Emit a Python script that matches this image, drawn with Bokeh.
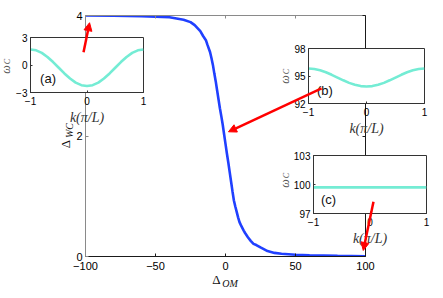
from bokeh.plotting import figure
from bokeh.models import (Range1d, FixedTicker, LinearAxis, Label, Arrow,
                          NormalHead, ColumnDataSource)
from bokeh.embed import file_html
from bokeh.resources import INLINE

# ---------------- data ----------------
delta_om = [-100, -80, -60, -40, -35, -30, -25, -22, -20, -18, -16, -14, -13, -11,
            -10, -9, -8, -7, -6, -5, -4, -3, -2, -1, 0, 1, 2, 3, 4, 5, 6, 7, 8, 9,
            10, 11, 13, 14, 16, 18, 20, 22, 25, 30, 35, 40, 50, 60, 80, 100]
delta_wc = [4.00, 3.995, 3.99, 3.97, 3.95, 3.93, 3.89, 3.84, 3.79, 3.74, 3.66, 3.59,
            3.52, 3.39, 3.29, 3.18, 3.04, 2.91, 2.76, 2.61, 2.46, 2.33, 2.19, 2.03,
            1.87, 1.71, 1.56, 1.40, 1.24, 1.08, 0.93, 0.83, 0.74, 0.65, 0.57, 0.52,
            0.43, 0.39, 0.32, 0.26, 0.21, 0.19, 0.15, 0.09, 0.06, 0.045, 0.03, 0.02,
            0.01, 0.005]

k_vals = [-1.0, -0.9, -0.8, -0.7, -0.6, -0.5, -0.4, -0.3, -0.2, -0.1, 0.0,
          0.1, 0.2, 0.3, 0.4, 0.5, 0.6, 0.7, 0.8, 0.9, 1.0]
omega_a = [1.70, 1.60, 1.32, 0.88, 0.32, -0.30, -0.92, -1.48, -1.92, -2.20, -2.30,
           -2.20, -1.92, -1.48, -0.92, -0.30, 0.32, 0.88, 1.32, 1.60, 1.70]
omega_b = [95.81, 95.76, 95.62, 95.41, 95.13, 94.83, 94.53, 94.25, 94.04, 93.90, 93.85,
           93.90, 94.04, 94.25, 94.53, 94.83, 95.13, 95.41, 95.62, 95.76, 95.81]
omega_c = [99.7, 99.7, 99.7, 99.7, 99.7, 99.7, 99.7, 99.7, 99.7, 99.7, 99.7,
           99.7, 99.7, 99.7, 99.7, 99.7, 99.7, 99.7, 99.7, 99.7, 99.7]

main_xticks = [-100, -50, 0, 50, 100]
main_yticks = [0, 2, 4]
inset_xticks = [-1, 0, 1]
inset_a_yticks = [-3, 0, 3]
inset_b_yticks = [92, 95, 98]
inset_c_yticks = [97, 100, 103]
inset_a_yrange = (-3, 3)
inset_b_yrange = (92, 98)
inset_c_yrange = (97, 103)
panel_tags = ["(a)", "(b)", "(c)"]
tag_k = [-0.69, -0.716, -0.735]
tag_w = [-1.47, 93.4, 98.45]

# arrows in main-plot data coordinates
arrow_x0 = [-101.4, 68.6, 105.7]
arrow_y0 = [3.39, 2.79, 0.91]
arrow_x1 = [-97.1, 2.1, 98.4]
arrow_y1 = [3.88, 2.07, 0.10]

# ---------------- layout (window pixels) ----------------
WIN_W, WIN_H = 443, 298
MAIN_FRAME = (85, 15, 365, 256)     # left, top, right, bottom
MAIN_BOX = (8, 8, 435, 290)
A_FRAME, A_BOX = (30, 37, 143, 92), (10, 30, 151, 128)
B_FRAME, B_BOX = (308, 48, 424, 103), (286, 41, 432, 139)
C_FRAME, C_BOX = (313, 155, 426, 213), (288, 148, 434, 249)

BLUE = "#2040ff"
AQUA = "#74ecd4"
RED = "#ff0000"
SANS = "Liberation Sans"
SERIF = "Liberation Serif"


def make_fig(frame, box, xr, yr, **kw):
    fl, ft, fr, fb = frame
    bl, bt, br, bb = box
    f = figure(width=br - bl, height=bb - bt, x_range=xr, y_range=yr,
               min_border_left=fl - bl, min_border_right=br - fr,
               min_border_top=ft - bt, min_border_bottom=bb - fb,
               output_backend="svg", toolbar_location=None, tools="", **kw)
    f.styles = {"position": "absolute", "left": f"{bl}px", "top": f"{bt}px"}
    f.xgrid.grid_line_color = None
    f.ygrid.grid_line_color = None
    return f


def style_axis(ax, ticks, size, standoff, color="#000000", line_color="#000000",
               tick_in=3, overrides=None):
    ax.ticker = FixedTicker(ticks=ticks)
    ax.major_tick_in = tick_in
    ax.major_tick_out = 0
    ax.minor_tick_line_color = None
    ax.major_tick_line_color = line_color
    ax.axis_line_color = line_color
    ax.major_label_text_font = SANS
    ax.major_label_text_font_size = size
    ax.major_label_text_color = color
    ax.major_label_standoff = standoff
    if overrides:
        ax.major_label_overrides = overrides


# ---------------- main plot ----------------
p = make_fig(MAIN_FRAME, MAIN_BOX, Range1d(-100, 100), Range1d(0, 4))
p.outline_line_color = None
p.background_fill_color = "white"
p.border_fill_color = "white"
style_axis(p.xaxis[0], main_xticks, "11px", 5, line_color="#1a1a1a",
           overrides={-100: "\u2212100", -50: "\u221250"})
style_axis(p.yaxis[0], main_yticks, "11px", 3, line_color="#8a8a8a")
# mirrored tick marks on the top and right edges (no labels)
top_ax = LinearAxis()
style_axis(top_ax, main_xticks, "1px", 0, color=None, line_color="#8a8a8a")
right_ax = LinearAxis()
style_axis(right_ax, main_yticks, "1px", 0, color=None, line_color="#1a1a1a")
p.add_layout(top_ax, "above")
p.add_layout(right_ax, "right")
p.line(delta_om, delta_wc, line_width=2.6, line_color=BLUE)


# ---------------- insets ----------------
def make_inset(frame, box, yrange, yticks, yvals, tag, tk, tw, yover=None):
    f = make_fig(frame, box, Range1d(-1, 1), Range1d(*yrange))
    f.background_fill_color = "white"
    f.border_fill_color = None
    f.outline_line_color = "#333333"
    style_axis(f.xaxis[0], inset_xticks, "10px", 4, line_color="#333333",
               tick_in=2, overrides={-1: "\u22121"})
    style_axis(f.yaxis[0], yticks, "10px", 3, line_color="#333333",
               tick_in=2, overrides=yover)
    f.xaxis[0].axis_label = "k(\u03c0/L)"
    f.xaxis[0].axis_label_text_font = SERIF
    f.xaxis[0].axis_label_text_font_style = "italic"
    f.xaxis[0].axis_label_text_font_size = "14px"
    f.xaxis[0].axis_label_text_color = "#333333"
    f.xaxis[0].axis_label_standoff = 2
    f.line(k_vals, yvals, line_width=2.6, line_color=AQUA)
    f.add_layout(Label(x=tk, y=tw, text=tag, text_font=SANS, text_font_size="13px",
                       text_align="center", text_baseline="middle",
                       text_color="#111111"))
    return f


ia = make_inset(A_FRAME, A_BOX, inset_a_yrange, inset_a_yticks, omega_a,
                panel_tags[0], tag_k[0], tag_w[0], yover={-3: "\u22123"})
ib = make_inset(B_FRAME, B_BOX, inset_b_yrange, inset_b_yticks, omega_b,
                panel_tags[1], tag_k[1], tag_w[1])
ic = make_inset(C_FRAME, C_BOX, inset_c_yrange, inset_c_yticks, omega_c,
                panel_tags[2], tag_k[2], tag_w[2])

# ---------------- overlay: axis titles and arrows ----------------
fl, ft, fr, fb = MAIN_FRAME
sx = (fr - fl) / 200.0
sy = (fb - ft) / 4.0
ov_x0 = -100 - fl / sx
ov_x1 = -100 + (WIN_W - fl) / sx
ov_y1 = 4 + ft / sy
ov_y0 = 4 - (WIN_H - ft) / sy
ov = figure(width=WIN_W, height=WIN_H, x_range=Range1d(ov_x0, ov_x1),
            y_range=Range1d(ov_y0, ov_y1), min_border=0,
            x_axis_type=None, y_axis_type=None,
            output_backend="svg", toolbar_location=None, tools="")
ov.extra_x_ranges = {"px": Range1d(0, WIN_W)}
ov.extra_y_ranges = {"px": Range1d(WIN_H, 0)}
ov.styles = {"position": "absolute", "left": "0px", "top": "0px"}
ov.background_fill_color = None
ov.border_fill_color = None
ov.outline_line_color = None
ov.xgrid.grid_line_color = None
ov.ygrid.grid_line_color = None


def px_label(x, y, text, size, style="normal", angle=0, color="#111111"):
    ov.add_layout(Label(x=x, y=y, text=text, x_range_name="px", y_range_name="px",
                        text_font=SERIF, text_font_size=size, text_font_style=style,
                        text_align="center", text_baseline="middle",
                        angle=angle, angle_units="deg", text_color=color))


# main x title  Δ_OM
px_label(216, 278.5, "\u0394", "13px")
px_label(229.5, 283, "OM", "10px", "italic")
# main y title  Δ_WC
px_label(65, 143.5, "\u0394", "13px", angle=90)
px_label(68.5, 130, "WC", "10px", "italic", angle=90)
# inset y titles ω_C
for (xw, yw) in [(5.5, 69), (284, 79), (284, 183)]:
    px_label(xw, yw, "\u03c9", "12px", "italic", angle=90, color="#555555")
    px_label(xw + 1.5, yw - 8, "C", "8px", "italic", angle=90, color="#555555")

arrows = ColumnDataSource(dict(x0=arrow_x0, y0=arrow_y0, x1=arrow_x1, y1=arrow_y1))
ov.add_layout(Arrow(source=arrows, x_start="x0", y_start="y0", x_end="x1", y_end="y1",
                    line_color=RED, line_width=2.5,
                    end=NormalHead(size=8, fill_color=RED, line_color=RED, line_width=1)))

open("out.html", "w").write(file_html([p, ia, ib, ic, ov], INLINE))
